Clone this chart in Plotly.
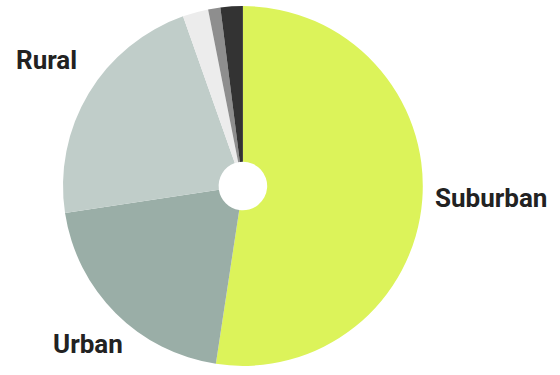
import plotly.graph_objects as go

# Share of respondents by area type
labels = ["Suburban", "Urban", "Rural", "Other A", "Other B", "Other C"]
values = [52.4, 20.2, 22.0, 2.3, 1.1, 2.0]
colors = ["#dcf35a", "#9aaea7", "#c0cdc9", "#ececec", "#8e8e8e", "#333333"]

# Callout labels for the three main groups (paper coordinates)
callouts = [
    ("Suburban", 0.877, 0.473),
    ("Urban", 0.157, 0.083),
    ("Rural", 0.083, 0.840),
]

fig = go.Figure(
    go.Pie(
        labels=labels,
        values=values,
        marker=dict(colors=colors, line=dict(width=0)),
        hole=0.135,
        sort=False,
        direction="clockwise",
        rotation=0,
        textinfo="none",
        hoverinfo="label+percent",
        domain=dict(x=[0.1125, 0.755], y=[0.024, 0.984]),
    )
)

for text, x, y in callouts:
    fig.add_annotation(
        text=f"<b>{text}</b>",
        x=x, y=y, xref="paper", yref="paper",
        xanchor="center", yanchor="middle",
        showarrow=False,
        font=dict(family="Roboto", size=26, color="#222222"),
    )

fig.update_layout(
    width=560,
    height=375,
    margin=dict(l=0, r=0, t=0, b=0),
    showlegend=False,
    paper_bgcolor="white",
    plot_bgcolor="white",
)

fig.write_html("out.html")
